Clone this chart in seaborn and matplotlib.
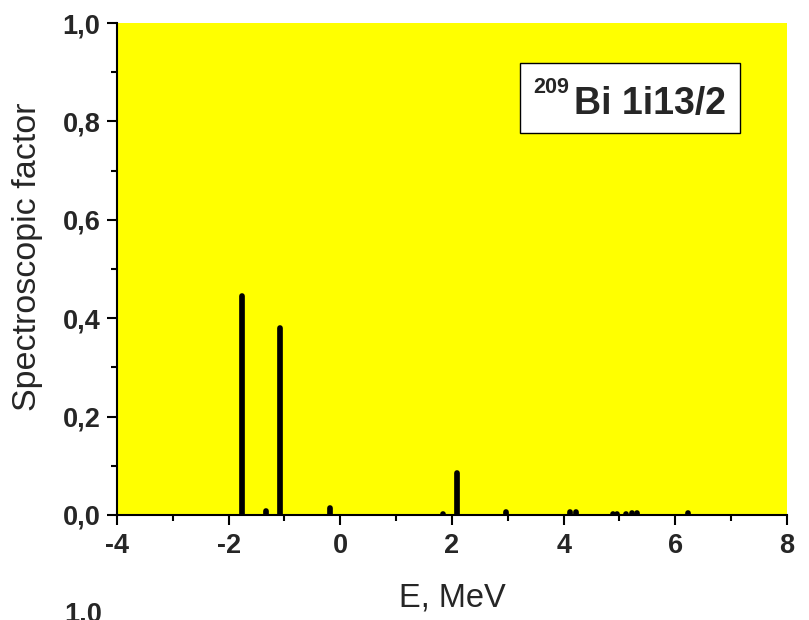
import numpy as np
import pandas as pd
import matplotlib
matplotlib.use("Agg")
import matplotlib.pyplot as plt
import seaborn as sns
from matplotlib.ticker import MultipleLocator, FuncFormatter
from matplotlib.patches import Rectangle

# Data
energies = [-1.76, -1.33, -1.08, -0.18, 1.84, 2.09, 2.97, 4.12, 4.22,
            4.885, 4.95, 5.12, 5.22, 5.31, 6.23]
factors = [0.445, 0.009, 0.381, 0.015, 0.001, 0.086, 0.007, 0.007, 0.007,
           0.001, 0.001, 0.002, 0.004, 0.005, 0.003]
x_ticks = [-4, -2, 0, 2, 4, 6, 8]
y_ticks = [0.0, 0.2, 0.4, 0.6, 0.8, 1.0]

rows = []
for i, (e, s) in enumerate(zip(energies, factors)):
    rows.append({"E": e, "S": 0.0, "id": i, "o": 0})
    rows.append({"E": e, "S": s, "id": i, "o": 1})
df = pd.DataFrame(rows)

sns.set_style("ticks")
plt.rcParams["font.family"] = ["Liberation Sans", "DejaVu Sans"]

fig = plt.figure(figsize=(8.09, 6.20), dpi=100)
ax = fig.add_axes([0.1446, 0.1694, 0.8282, 0.7935])
ax.set_facecolor("#FFFF00")

sns.lineplot(data=df, x="E", y="S", units="id", estimator=None, sort=False,
             color="black", linewidth=4.1, solid_capstyle="round", ax=ax,
             legend=False)

ax.set_xlim(-4, 8)
ax.set_ylim(0, 1.0)
ax.set_xticks(x_ticks)
ax.set_yticks(y_ticks)
ax.xaxis.set_minor_locator(MultipleLocator(1))
ax.yaxis.set_minor_locator(MultipleLocator(0.1))
ax.yaxis.set_major_formatter(FuncFormatter(lambda v, p: f"{v:.1f}".replace(".", ",")))
ax.xaxis.set_major_formatter(FuncFormatter(lambda v, p: f"{int(round(v))}"))

for side in ["top", "right"]:
    ax.spines[side].set_visible(False)
for side in ["left", "bottom"]:
    ax.spines[side].set_linewidth(1.5)
    ax.spines[side].set_color("black")

ax.tick_params(which="major", direction="out", length=7, width=1.5, color="black")
ax.tick_params(which="minor", direction="out", length=4, width=1.5, color="black")
ax.tick_params(axis="x", which="major", pad=6)
ax.tick_params(axis="y", which="major", pad=5)
for lab in ax.get_xticklabels() + ax.get_yticklabels():
    lab.set_fontsize(19.5)
    lab.set_fontweight("bold")

ax.set_xlabel("E, MeV", fontsize=23.5, labelpad=17)
ax.set_ylabel("Spectroscopic factor", fontsize=24.5)
ax.yaxis.set_label_coords(-0.134, 0.524)
ax.yaxis.label.set_va("center")

# Label box
box = Rectangle((0.6015, 0.7764), 0.3285, 0.1423, transform=ax.transAxes,
                facecolor="white", edgecolor="black", linewidth=1.0, zorder=5)
ax.add_patch(box)
ax.text(0.621, 0.858, "209", transform=ax.transAxes, fontsize=15.5,
        fontweight="bold", ha="left", va="baseline", zorder=6)
ax.text(0.682, 0.815, "Bi 1i13/2", transform=ax.transAxes, fontsize=27,
        fontweight="bold", ha="left", va="baseline", zorder=6)

# Fragment of the next panel at the bottom edge
fig.text(102 / 809, 1 - 602 / 620, "1,0", fontsize=19.5, fontweight="bold",
         ha="right", va="top")

fig.savefig("out.png", dpi=100)
